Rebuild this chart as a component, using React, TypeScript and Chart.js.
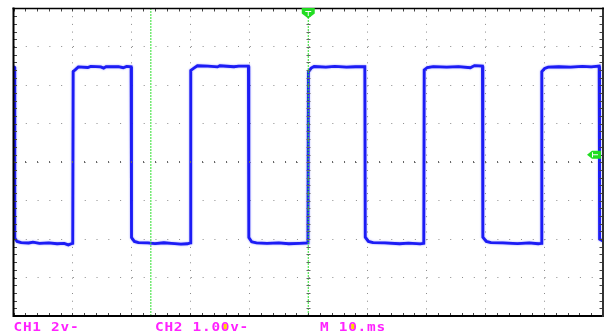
import React, { useEffect, useRef } from 'react';
import { Chart, registerables } from 'chart.js';

Chart.register(...registerables);

// Horizontal: 10 ms/div over 10 divisions; vertical: CH1 2 V/div over 8 divisions
const timeRangeMs = [0, 100];
const voltRange = [-8, 8];
const majorTimeStepMs = 10;
const majorVoltStep = 2;

const ch1TimeMs = [
  0.0, 0.15, 0.22, 0.6, 1.3, 2.6, 3.3, 4.4, 6.0, 7.4, 8.6, 9.3, 9.8, 10.05,
  10.12, 10.5, 11.0, 12.6, 13.1, 14.8, 15.3, 15.7, 17.8, 18.6, 19.2, 19.95,
  20.02, 20.5, 21.2, 22.8, 24.0, 25.5, 26.8, 28.4, 29.5, 30.0,
  30.07, 30.6, 31.2, 33.0, 34.6, 35.0, 37.4, 38.2, 39.85,
  39.92, 40.4, 41.2, 43.0, 45.0, 46.7, 48.5, 49.95,
  50.02, 50.5, 51.0, 53.0, 54.5, 56.5, 58.0, 59.6,
  59.67, 60.2, 61.0, 63.0, 65.5, 67.0, 69.0, 69.6,
  69.67, 70.2, 71.2, 73.5, 75.5, 77.5, 78.2, 79.55,
  79.62, 80.2, 81.0, 83.0, 85.5, 87.5, 89.0, 89.55,
  89.62, 90.1, 90.7, 92.5, 94.5, 96.5, 98.0, 99.35,
  99.42, 100.0,
];
const ch1Volts = [
  4.97, 4.95, -3.95, -4.12, -4.18, -4.2, -4.16, -4.22, -4.2, -4.24, -4.22, -4.3, -4.24, -4.22,
  4.72, 4.82, 4.96, 4.93, 4.99, 4.96, 4.9, 4.98, 4.97, 4.92, 4.99, 4.97,
  -3.92, -4.12, -4.18, -4.2, -4.23, -4.19, -4.22, -4.26, -4.24, -4.2,
  4.78, 4.9, 5.02, 5.0, 4.96, 5.02, 4.97, 5.0, 5.0,
  -3.92, -4.14, -4.2, -4.22, -4.2, -4.24, -4.22, -4.2,
  4.7, 4.9, 4.98, 4.95, 4.99, 4.95, 4.97, 4.97,
  -3.9, -4.12, -4.18, -4.2, -4.24, -4.21, -4.25, -4.22,
  4.8, 4.93, 4.98, 4.95, 4.98, 4.92, 5.03, 5.0,
  -3.9, -4.12, -4.18, -4.2, -4.23, -4.2, -4.24, -4.22,
  4.72, 4.88, 4.95, 4.97, 4.95, 4.99, 4.96, 5.0,
  -4.0, -4.1,
];

// Green cursor lines (ms) and trigger markers
const cursorTimesMs = [23.3, 50];
const triggerTimeMs = 50;
const triggerLevelV = 0.39;

// Readout text
const readouts = ['CH1 2v-', 'CH2 1.00v-', 'M 10.ms'];
const highlightedChar = [-1, 7, 3];

const haloPlugin = {
  id: 'traceHalo',
  beforeDatasetDraw(chart: any, args: any) {
    if (args.index === cursorTimesMs.length) {
      chart.ctx.save();
      chart.ctx.shadowColor = 'rgba(60,60,255,0.55)';
      chart.ctx.shadowBlur = 2;
    }
  },
  afterDatasetDraw(chart: any, args: any) {
    if (args.index === cursorTimesMs.length) chart.ctx.restore();
  },
};

const scopePlugin = {
  id: 'scopeGraticule',
  afterDatasetsDraw(chart: any) {
    const ctx: CanvasRenderingContext2D = chart.ctx;
    const xs = chart.scales.x;
    const ys = chart.scales.y;
    const { left, right, top, bottom } = chart.chartArea;
    const xc = xs.getPixelForValue(50);
    const yc = ys.getPixelForValue(0);
    ctx.save();
    // minor ticks on the frame
    ctx.strokeStyle = '#444';
    ctx.lineWidth = 1;
    ctx.beginPath();
    for (let t = timeRangeMs[0]; t <= timeRangeMs[1] + 1e-6; t += majorTimeStepMs / 5) {
      const x = Math.round(xs.getPixelForValue(t)) + 0.5;
      ctx.moveTo(x, top); ctx.lineTo(x, top + 3);
      ctx.moveTo(x, bottom); ctx.lineTo(x, bottom - 3);
    }
    for (let v = voltRange[0]; v <= voltRange[1] + 1e-6; v += majorVoltStep / 5) {
      const y = Math.round(ys.getPixelForValue(v)) + 0.5;
      ctx.moveTo(left, y); ctx.lineTo(left + 3.5, y);
      ctx.moveTo(right, y); ctx.lineTo(right - 3.5, y);
    }
    ctx.stroke();
    // minor ticks on the centre axes
    ctx.strokeStyle = '#666';
    ctx.beginPath();
    for (let t = timeRangeMs[0]; t <= timeRangeMs[1] + 1e-6; t += majorTimeStepMs / 5) {
      const x = Math.round(xs.getPixelForValue(t)) + 0.5;
      ctx.moveTo(x, Math.round(yc) - 1); ctx.lineTo(x, Math.round(yc) + 1);
    }
    for (let v = voltRange[0]; v <= voltRange[1] + 1e-6; v += majorVoltStep / 5) {
      const y = Math.round(ys.getPixelForValue(v)) + 0.5;
      ctx.moveTo(Math.round(xc) - 1.5, y); ctx.lineTo(Math.round(xc) + 2.5, y);
    }
    ctx.stroke();
    // frame
    ctx.strokeStyle = '#000';
    ctx.lineWidth = 2;
    ctx.beginPath();
    ctx.moveTo(left, top - 1); ctx.lineTo(left, bottom + 1);
    ctx.moveTo(left - 1, bottom); ctx.lineTo(right + 1, bottom);
    ctx.stroke();
    ctx.strokeStyle = '#333';
    ctx.beginPath();
    ctx.moveTo(right, top - 1); ctx.lineTo(right, bottom + 1);
    ctx.stroke();
    ctx.strokeStyle = '#000';
    ctx.lineWidth = 1.5;
    ctx.beginPath();
    ctx.moveTo(left - 1, top); ctx.lineTo(right + 1, top);
    ctx.stroke();

    // trigger position marker (top)
    const tx = xs.getPixelForValue(triggerTimeMs);
    ctx.fillStyle = '#22dd22';
    ctx.beginPath();
    ctx.moveTo(tx - 6.5, top - 0.5);
    ctx.lineTo(tx + 6.5, top - 0.5);
    ctx.lineTo(tx + 6.5, top + 5);
    ctx.lineTo(tx, top + 10);
    ctx.lineTo(tx - 6.5, top + 5);
    ctx.closePath();
    ctx.fill();
    ctx.strokeStyle = '#fff';
    ctx.lineWidth = 1;
    ctx.beginPath();
    ctx.moveTo(tx - 3, top + 3); ctx.lineTo(tx + 3, top + 3);
    ctx.moveTo(tx, top + 3); ctx.lineTo(tx, top + 7.5);
    ctx.stroke();

    // trigger level marker (right)
    const ty = ys.getPixelForValue(triggerLevelV);
    ctx.fillStyle = '#22dd22';
    ctx.beginPath();
    ctx.moveTo(right - 16, ty);
    ctx.lineTo(right - 11, ty - 4);
    ctx.lineTo(right - 2, ty - 4);
    ctx.lineTo(right - 2, ty + 4);
    ctx.lineTo(right - 11, ty + 4);
    ctx.closePath();
    ctx.fill();
    ctx.strokeStyle = '#fff';
    ctx.beginPath();
    ctx.moveTo(right - 10.5, ty - 2.5); ctx.lineTo(right - 10.5, ty + 2.5);
    ctx.moveTo(right - 10.5, ty); ctx.lineTo(right - 5, ty);
    ctx.stroke();

    // readouts
    const starts = [13.5, 155, 320];
    const adv = 9.4;
    ctx.font = "bold 12px 'DejaVu Sans Mono'";
    ctx.textBaseline = 'alphabetic';
    readouts.forEach((txt, k) => {
      for (let i = 0; i < txt.length; i++) {
        const ch = txt[i];
        if (ch === ' ') continue;
        const x = starts[k] + i * adv;
        ctx.save();
        ctx.translate(x, 330.5);
        ctx.scale(1.2, 1);
        ctx.fillStyle = '#ff22ff';
        ctx.fillText(ch, 0, 0);
        ctx.restore();
        if (i === highlightedChar[k]) {
          ctx.fillStyle = '#ffd800';
          ctx.fillRect(x + 3, 324, 3, 5);
        }
      }
    });
    ctx.restore();
  },
};

export default function App() {
  const ref = useRef<HTMLCanvasElement>(null);
  useEffect(() => {
    if (!ref.current) return;
    const trace = ch1TimeMs.map((t, i) => ({ x: t, y: ch1Volts[i] }));
    const cursorSets = cursorTimesMs.map((t) => ({
      data: [{ x: t, y: voltRange[0] }, { x: t, y: voltRange[1] }],
      borderColor: '#2ee02e',
      borderWidth: 1,
      borderDash: [2, 1],
      pointRadius: 0,
      showLine: true,
      order: 0,
    }));
    const chart = new Chart(ref.current, {
      type: 'scatter',
      data: {
        datasets: [
          ...cursorSets,
          {
            data: trace,
            borderColor: '#1c1cf5',
            borderWidth: 2.8,
            pointRadius: 0,
            showLine: true,
            tension: 0,
            order: 1,
          },
        ],
      },
      options: {
        responsive: false,
        animation: false,
        devicePixelRatio: 1,
        layout: { padding: { left: 13.5, right: 10, top: 8.5, bottom: 18 } },
        plugins: { legend: { display: false }, tooltip: { enabled: false } },
        scales: {
          x: {
            type: 'linear',
            min: timeRangeMs[0],
            max: timeRangeMs[1],
            ticks: { display: false, stepSize: majorTimeStepMs },
            grid: { color: '#8a8a8a', lineWidth: 1, drawTicks: false },
            border: { display: false, dash: [1, 6.69] },
            afterFit: (s: any) => { s.height = 0; },
          },
          y: {
            type: 'linear',
            min: voltRange[0],
            max: voltRange[1],
            ticks: { display: false, stepSize: majorVoltStep },
            grid: { color: '#8a8a8a', lineWidth: 1, drawTicks: false },
            border: { display: false, dash: [1, 10.79] },
            afterFit: (s: any) => { s.width = 0; },
          },
        },
      },
      plugins: [haloPlugin, scopePlugin],
    } as any);
    return () => chart.destroy();
  }, []);
  return (
    <div style={{ position: 'absolute', left: 0, top: 0, width: 613, height: 334, background: '#fff' }}>
      <canvas ref={ref} width={613} height={334} style={{ display: 'block' }} />
    </div>
  );
}
